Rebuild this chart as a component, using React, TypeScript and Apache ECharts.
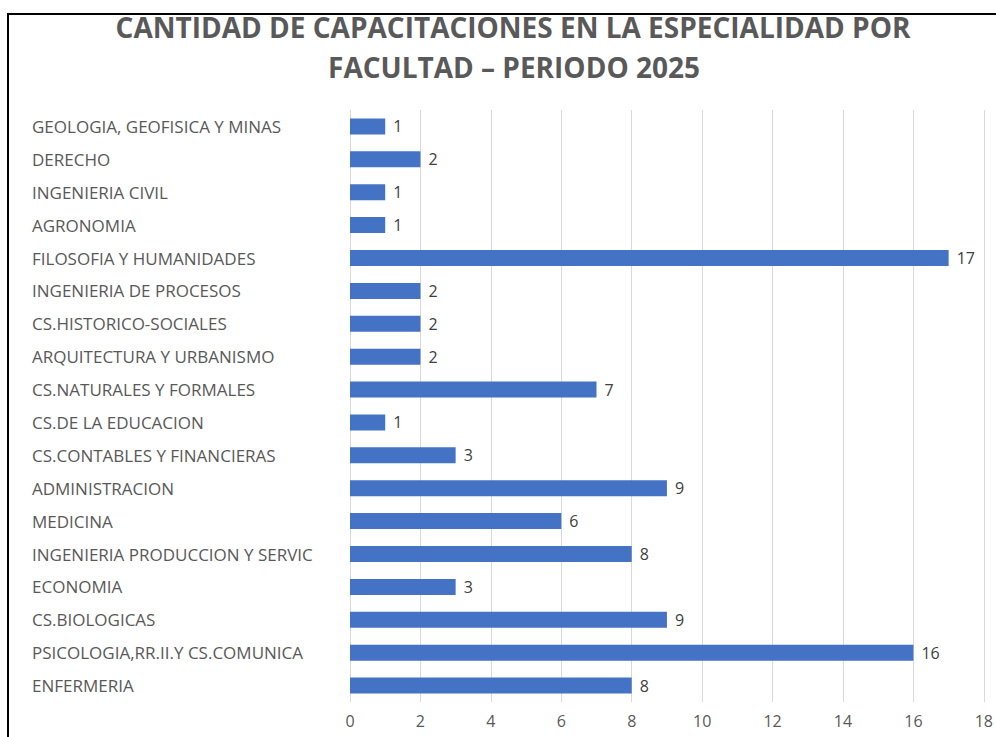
import React, { useEffect, useRef } from "react";
import * as echarts from "echarts";

const titleLines = [
  "CANTIDAD DE CAPACITACIONES EN LA ESPECIALIDAD POR",
  "FACULTAD – PERIODO 2025",
];

const categories = [
  "GEOLOGIA, GEOFISICA Y MINAS",
  "DERECHO",
  "INGENIERIA CIVIL",
  "AGRONOMIA",
  "FILOSOFIA Y HUMANIDADES",
  "INGENIERIA DE PROCESOS",
  "CS.HISTORICO-SOCIALES",
  "ARQUITECTURA Y URBANISMO",
  "CS.NATURALES Y FORMALES",
  "CS.DE LA EDUCACION",
  "CS.CONTABLES Y FINANCIERAS",
  "ADMINISTRACION",
  "MEDICINA",
  "INGENIERIA PRODUCCION Y SERVIC",
  "ECONOMIA",
  "CS.BIOLOGICAS",
  "PSICOLOGIA,RR.II.Y CS.COMUNICA",
  "ENFERMERIA",
];

const values = [1, 2, 1, 1, 17, 2, 2, 2, 7, 1, 3, 9, 6, 8, 3, 9, 16, 8];

const FONT = "'Open Sans', 'Roboto', sans-serif";

export default function App() {
  const ref = useRef<HTMLDivElement>(null);
  useEffect(() => {
    if (!ref.current) return;
    const chart = echarts.init(ref.current, undefined, { renderer: "svg" });
    chart.setOption({
      animation: false,
      backgroundColor: "#ffffff",
      graphic: [
        {
          type: "line",
          shape: { x1: 7, y1: 14, x2: 996, y2: 14 },
          style: { stroke: "#000000", lineWidth: 2 },
        },
        {
          type: "line",
          shape: { x1: 8, y1: 13, x2: 8, y2: 737 },
          style: { stroke: "#000000", lineWidth: 2 },
        },
        {
          type: "text",
          x: 513,
          y: 27,
          style: {
            text: titleLines[0],
            font: `bold 28px ${FONT}`,
            fill: "#595959",
            textAlign: "center",
            textVerticalAlign: "middle",
          },
        },
        {
          type: "text",
          x: 514,
          y: 67,
          style: {
            text: titleLines[1],
            font: `bold 28px ${FONT}`,
            fill: "#595959",
            textAlign: "center",
            textVerticalAlign: "middle",
          },
        },
      ],
      grid: { left: 350, right: 12, top: 110, bottom: 35, containLabel: false },
      xAxis: {
        type: "value",
        min: 0,
        max: 18,
        interval: 2,
        axisLine: { show: false },
        axisTick: { show: false },
        axisLabel: { color: "#595959", fontSize: 16, fontFamily: FONT, margin: 11 },
        splitLine: { show: true, lineStyle: { color: "#d9d9d9", width: 1 } },
      },
      yAxis: {
        type: "category",
        data: categories,
        inverse: true,
        axisLine: { show: true, lineStyle: { color: "#d9d9d9" } },
        axisTick: { show: false },
        axisLabel: {
          color: "#595959",
          fontSize: 17,
          fontFamily: FONT,
          align: "left",
          margin: 318,
        },
      },
      series: [
        {
          type: "bar",
          data: values,
          barWidth: 16,
          itemStyle: { color: "#4472C4" },
          label: {
            show: true,
            position: "right",
            distance: 8,
            color: "#404040",
            fontSize: 16,
            fontFamily: FONT,
          },
        },
      ],
    });
    return () => chart.dispose();
  }, []);
  return (
    <div
      ref={ref}
      style={{ position: "fixed", left: 0, top: 0, width: 996, height: 737 }}
    />
  );
}
